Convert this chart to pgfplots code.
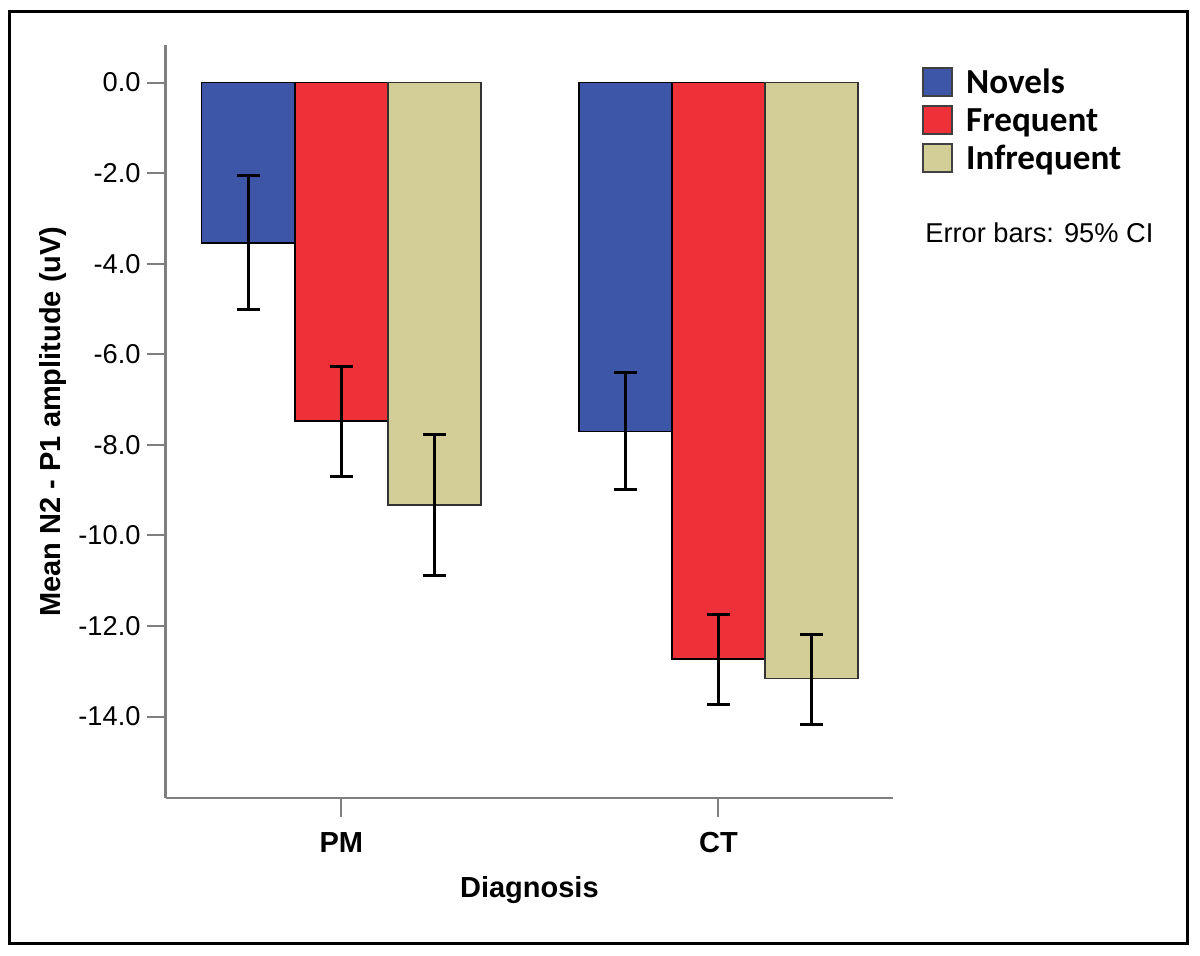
\documentclass[border=0pt]{standalone}
\usepackage{pgfplots}
\usepackage{pgfplotstable}
\pgfplotsset{compat=1.18}
\usepackage{fontspec}
\setmainfont{Liberation Sans}
\newfontfamily\legfont{Carlito}
\definecolor{novblue}{HTML}{3E56A8}
\definecolor{freqred}{HTML}{EE3039}
\definecolor{infqtan}{HTML}{D3CE98}
\definecolor{axgray}{HTML}{7F7F7F}

% group (0 = PM, 1 = CT), mean, CI upper and lower distances
\pgfplotstableread{
x y ep em
0 -3.54 1.48 1.47
1 -7.71 1.31 1.27
}\novels
\pgfplotstableread{
x y ep em
0 -7.47 1.21 1.23
1 -12.73 0.99 1.01
}\frequent
\pgfplotstableread{
x y ep em
0 -9.33 1.56 1.56
1 -13.16 0.98 1.02
}\infrequent

\begin{document}
\begin{tikzpicture}
\begin{axis}[
    scale only axis,
    width=145.46mm, height=150.6mm,
    xmin=-0.466, xmax=1.463,
    ymin=-15.8, ymax=0.83,
    axis x line=bottom, axis y line=left,
    axis line style={-, axgray, line width=0.5mm},
    tick style={axgray, line width=0.4mm},
    tick align=outside,
    major tick length=3.8mm,
    xtick={0,1}, xticklabels={PM,CT},
    ytick={0,-2,...,-14},
    yticklabel style={/pgf/number format/.cd, fixed, fixed zerofill, precision=1, assume math mode=true},
    ticklabel style={font=\fontsize{15.5}{18}\selectfont},
    xticklabel style={font=\fontsize{16.5}{19}\selectfont\bfseries, yshift=-1.8mm},
    xlabel={Diagnosis},
    xlabel style={at={(axis description cs:0.5,-0.1222)}, anchor=center},
    ylabel={Mean N2 - P1 amplitude (uV)},
    label style={font=\fontsize{16.5}{19}\selectfont\bfseries},
    ybar=0pt, bar width=0.247,
    legend cell align=left,
    legend style={at={(1.040,0.973)}, anchor=north west, draw=none, fill=none,
        inner sep=0pt, row sep=1mm,
        nodes={inner sep=0pt, text height=5.6mm, text depth=1mm},
        font=\legfont\fontsize{20}{23}\selectfont\bfseries},
    legend image code/.code={
        \draw[#1, draw=black!75, line width=0.4mm] (0mm,-2.8mm) rectangle (5.8mm,2.8mm);
        \path (8.4mm,0mm);},
]
\addplot[fill=novblue, draw=black, line width=0.3mm,
    error bars/.cd, y dir=both, y explicit,
    error bar style={line width=0.6mm, black},
    error mark options={rotate=90, mark size=2.3mm, line width=0.6mm, black}]
    table[x=x, y=y, y error plus=ep, y error minus=em] {\novels};
\addplot[fill=freqred, draw=black, line width=0.3mm,
    error bars/.cd, y dir=both, y explicit,
    error bar style={line width=0.6mm, black},
    error mark options={rotate=90, mark size=2.3mm, line width=0.6mm, black}]
    table[x=x, y=y, y error plus=ep, y error minus=em] {\frequent};
\addplot[fill=infqtan, draw=black!80, line width=0.3mm,
    error bars/.cd, y dir=both, y explicit,
    error bar style={line width=0.6mm, black},
    error mark options={rotate=90, mark size=2.3mm, line width=0.6mm, black}]
    table[x=x, y=y, y error plus=ep, y error minus=em] {\infrequent};
\legend{Novels, Frequent, Infrequent}
\end{axis}
% outer frame, in reference pixels measured from the axis corner
\begin{scope}[x=0.2mm, y=0.2mm]
\useasboundingbox (-165.7,-157) rectangle (1034.3,798);
\draw[line width=0.6mm] (-155.7,-145) rectangle (1021.3,786);
\node[anchor=west, inner sep=0pt, font=\fontsize{15.5}{18}\selectfont] at (759.3,565) {Error bars: 95\% CI};
\end{scope}
\end{tikzpicture}
\end{document}
